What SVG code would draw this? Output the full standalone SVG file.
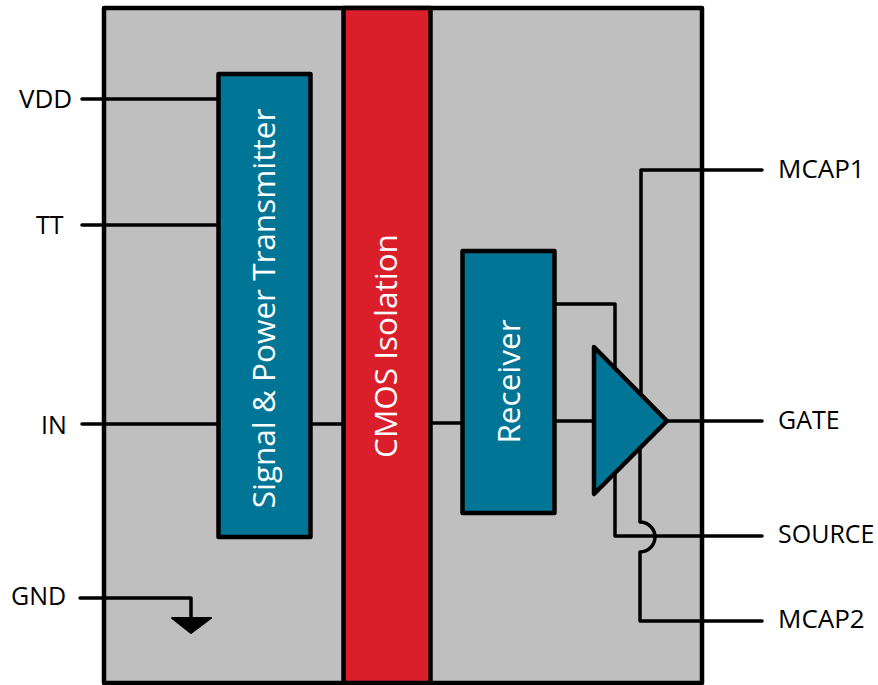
<svg xmlns="http://www.w3.org/2000/svg" width="878" height="685" viewBox="0 0 878 685">
<style>
.b{stroke:#000;stroke-width:4.5;stroke-linejoin:round}
.w{fill:none;stroke:#000;stroke-width:3.5;stroke-linecap:round;stroke-linejoin:round}
.t{font-family:"Open Sans","Noto Sans",sans-serif;font-size:25px;fill:#000}
.w2{font-size:26px}
.v{font-family:"Open Sans","Noto Sans",sans-serif;font-size:31.5px;fill:#fff;text-anchor:middle}
</style>
<rect id="package" class="b" x="104" y="8" width="598" height="675" fill="#bfbfbf"/>
<g id="connectors">
<path class="w" d="M82 99H219M82 225H219M82 424H344M431 423H463M556 421H594M667 421H762"/>
<path class="w" d="M80 598H191V620"/>
<path class="w" d="M556 304H615V536H762"/>
<path class="w" d="M641 400V170H762"/>
<path class="w" d="M640 440V522A15 15 0 0 1 640 552V621H762"/>
</g>
<g id="gnd-symbol"><path d="M172 618H211L191 633Z" fill="#000" stroke="#000" stroke-width="2" stroke-linejoin="round"/></g>
<g id="isolation"><rect class="b" x="343.5" y="8" width="87" height="675" fill="#da1f2b"/><text class="v" transform="translate(397 346) rotate(-90)">CMOS Isolation</text></g>
<g id="transmitter"><rect class="b" x="218.5" y="74" width="92" height="463" fill="#007595"/><text class="v" transform="translate(275 308.500) rotate(-90)">Signal &amp; Power Transmitter</text></g>
<g id="receiver"><rect class="b" x="462.500" y="251" width="92" height="262" fill="#007595"/><text class="v" transform="translate(520 381.500) rotate(-90)">Receiver</text></g>
<g id="amplifier"><path class="b" d="M594 347L667 421L594 494Z" fill="#007595"/></g>
<g id="labels">
<text class="t w2" x="19" y="108">VDD</text>
<text class="t" x="36" y="234">TT</text>
<text class="t" x="41" y="434">IN</text>
<text class="t" x="11" y="605">GND</text>
<text class="t w2" x="778" y="178">MCAP1</text>
<text class="t" x="778" y="429">GATE</text>
<text class="t" x="778" y="543">SOURCE</text>
<text class="t w2" x="778" y="628">MCAP2</text>
</g>
</svg>
